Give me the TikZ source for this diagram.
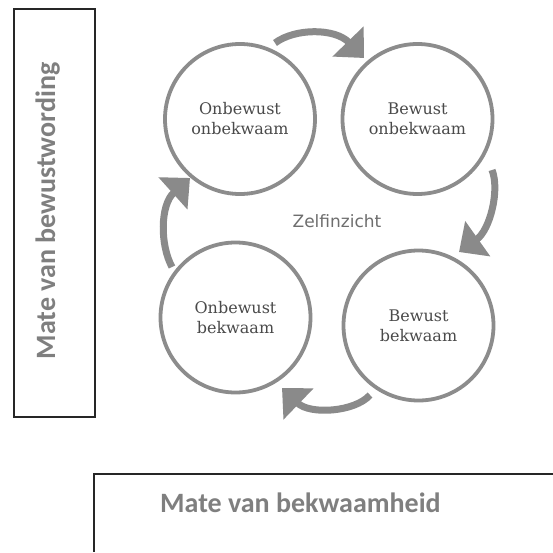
\documentclass[tikz,border=0pt]{standalone}
\usepackage{fontspec}
\setmainfont{DejaVu Serif}
\newfontfamily\axisfont{Carlito}
\newfontfamily\centrefont{DejaVu Sans}
\usetikzlibrary{arrows.meta}
\definecolor{ringgray}{HTML}{8C8C8C}
\definecolor{arrowgray}{HTML}{8A8A8A}
\definecolor{stagetext}{HTML}{4A4A4A}
\definecolor{axistext}{HTML}{7F7F7F}
\definecolor{centretext}{HTML}{6E6E6E}
\begin{document}
\begin{tikzpicture}[x=1pt,y=-1pt,
  stage/.style={circle, draw=ringgray, line width=3.8pt, fill=white,
    minimum size=150pt, inner sep=0pt, align=center, text=stagetext,
    font=\fontsize{16}{20}\selectfont},
  cyclearrow/.style={draw=arrowgray, line width=7pt,
    -{Triangle[width=42pt,length=23pt]}},
  axislabel/.style={inner sep=0pt, text=axistext,
    font=\axisfont\bfseries\fontsize{28}{32}\selectfont},
  frame/.style={draw=black!85, line width=1.8pt}]
\path[use as bounding box, fill=white] (0,0) rectangle (553,552);

% axis frames
\draw[frame] (14,9) rectangle (95,417);
\draw[frame] (553,474) -- (94,474) -- (94,552);
\node[axislabel, rotate=90, anchor=base] (vaxis) at (55,211) {Mate van bewustwording};
\node[axislabel, anchor=base west] (haxis) at (160,512) {Mate van bekwaamheid};

% the four stages
\node[stage] (ou) at (240,119) {Onbewust\\onbekwaam};
\node[stage] (bo) at (417.5,119) {Bewust\\onbekwaam};
\node[stage] (ob) at (235.5,317.5) {Onbewust\\bekwaam};
\node[stage] (bb) at (418.5,325.5) {Bewust\\bekwaam};

\node[text=centretext, font=\centrefont\fontsize{17}{20}\selectfont] (zi) at (337,221) {Zelfinzicht};

% cycle arrows between the stages
\coordinate (a1s) at (275,43);  \coordinate (a1e) at (364,58);
\coordinate (a2s) at (492,170); \coordinate (a2e) at (459,252);
\coordinate (a3s) at (370,395); \coordinate (a3e) at (282,388);
\coordinate (a4s) at (172,267); \coordinate (a4e) at (190,178);
\draw[cyclearrow] (a1s) .. controls (295,28) and (335,28) .. (a1e);
\draw[cyclearrow] (a2s) .. controls (500,190) and (490,230) .. (a2e);
\draw[cyclearrow] (a3s) .. controls (355,412) and (310,415) .. (a3e);
\draw[cyclearrow] (a4s) .. controls (160,245) and (160,205) .. (a4e);
\end{tikzpicture}
\end{document}
